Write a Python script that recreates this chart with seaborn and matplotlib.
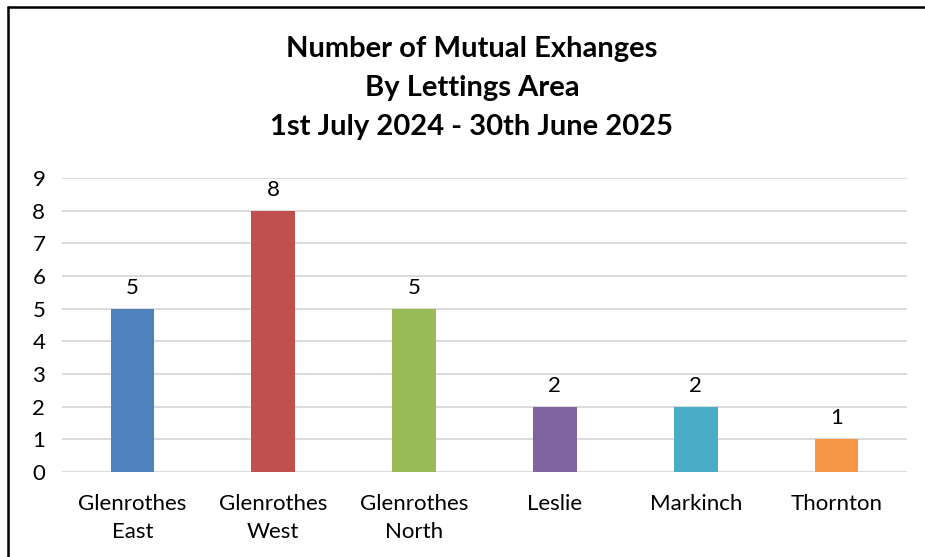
import matplotlib
matplotlib.use("Agg")
import matplotlib.pyplot as plt
import seaborn as sns
import pandas as pd
from matplotlib.lines import Line2D

categories = ["Glenrothes\nEast", "Glenrothes\nWest", "Glenrothes\nNorth", "Leslie", "Markinch", "Thornton"]
values = [5, 8, 5, 2, 2, 1]
colors = ["#4F81BD", "#C0504D", "#9BBB59", "#8064A2", "#4BACC6", "#F79646"]
yticks = list(range(0, 10))
title = "Number of Mutual Exhanges\nBy Lettings Area\n1st July 2024 - 30th June 2025"

sns.set_theme(style="white")
plt.rcParams['font.family'] = ['Lato', 'DejaVu Sans']

df = pd.DataFrame({"area": categories, "count": values})

fig = plt.figure(figsize=(9.25, 5.57), dpi=100)
ax = fig.add_axes([62/925, 1-472/557, (907-62)/925, (472-178)/557])

sns.barplot(data=df, x="area", y="count", hue="area", palette=colors,
            width=0.31, legend=False, ax=ax, saturation=1, linewidth=0)

ax.set_ylim(0, 9)
ax.set_xlim(-0.5, len(categories)-0.5)
ax.set_yticks(yticks)
ax.yaxis.grid(True, color="#D9D9D9", linewidth=1.3)
ax.set_axisbelow(True)
for s in ax.spines.values():
    s.set_visible(False)
ax.tick_params(axis="y", length=0, pad=12, labelsize=16, colors="black")
ax.tick_params(axis="x", length=0, pad=16, labelsize=16, colors="black")
ax.set_xlabel("")
ax.set_ylabel("")
for lbl in ax.get_xticklabels():
    lbl.set_linespacing(1.5)

for c in ax.containers:
    ax.bar_label(c, padding=8, fontsize=16, color="black")

fig.text(472/925, 1-88/557, title, ha="center", va="center", fontsize=21,
         fontweight="bold", linespacing=1.6, color="black")

fig.add_artist(Line2D([8/925, 8/925], [0, 1-7/557], transform=fig.transFigure, color="black", linewidth=1.8))
fig.add_artist(Line2D([8/925, 1], [1-7/557, 1-7/557], transform=fig.transFigure, color="black", linewidth=1.8))

fig.savefig("out.png", dpi=100)
